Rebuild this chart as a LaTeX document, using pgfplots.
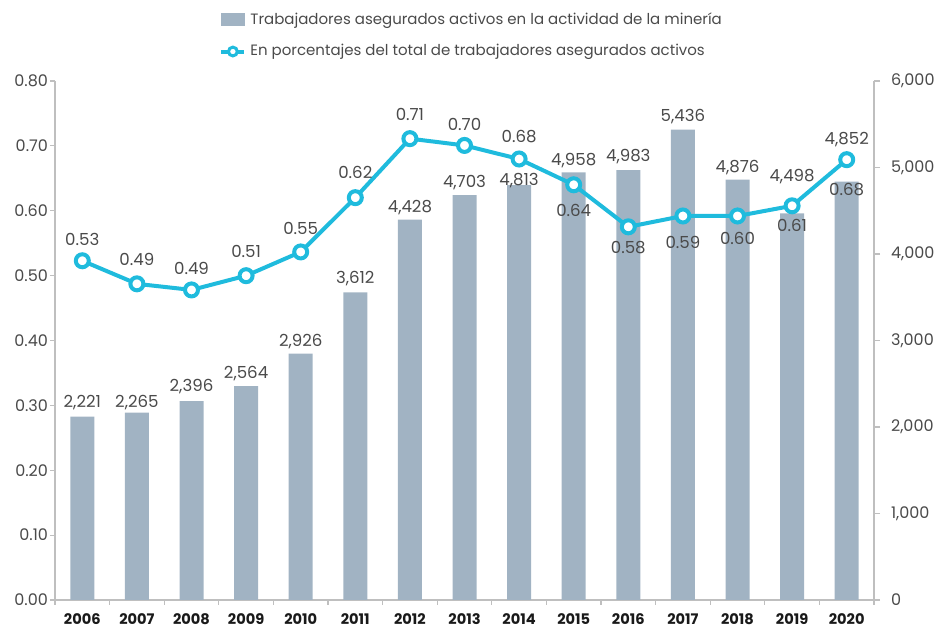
\documentclass[border=0pt]{standalone}
\usepackage{pgfplots}
\pgfplotsset{compat=1.18}
\usepackage{pgfplotstable}
\usepackage{fontspec}
\setmainfont{Poppins}

\definecolor{barcol}{HTML}{A1B3C3}
\definecolor{linecol}{HTML}{1FBBDD}
\definecolor{textcol}{HTML}{4A4A4A}
\definecolor{axiscol}{HTML}{BFBFBF}

% bars: value, label shift (pt)
\pgfplotstableread{
x y off
0 2221 7
1 2265 5
2 2396 7
3 2564 6
4 2926 6
5 3612 6.75
6 4428 5.8
7 4703 6
8 4813 2.5
9 4958 6
10 4983 6.5
11 5436 6.3
12 4876 5.8
13 4498 18.5
14 4852 21
}\bardata

% line: value, shown label, label shift (pt)
\pgfplotstableread{
x y lab off
0 0.530 0.53 10.5
1 0.496 0.49 12
2 0.487 0.49 11
3 0.508 0.51 12
4 0.543 0.55 11.5
5 0.623 0.62 12.5
6 0.710 0.71 12
7 0.700 0.70 10.5
8 0.680 0.68 11
9 0.642 0.64 -13
10 0.580 0.58 -10.5
11 0.596 0.59 -13
12 0.596 0.60 -11
13 0.611 0.61 -10
14 0.679 0.68 -15
}\linedata

\pgfplotsset{
  base/.style={
    scale only axis, width=409.5pt, height=259.5pt,
    xmin=-0.5, xmax=14.5,
    tick align=outside,
    /pgf/number format/assume math mode=true,
    tick label style={font=\fontsize{8}{9}\selectfont, text=textcol},
    axis line style={axiscol, line width=0.6pt},
    every tick/.style={axiscol, line width=0.6pt},
  },
}

\begin{document}
\begin{tikzpicture}
% bars and x axis
\begin{axis}[base, name=main,
    ymin=168, ymax=5980,
    axis x line*=bottom, axis y line=none,
    xtick={-0.5,0.5,...,14.5},
    x tick label as interval,
    xticklabels={2006,2007,2008,2009,2010,2011,2012,2013,2014,2015,2016,2017,2018,2019,2020},
    x tick label style={font=\fontsize{7.3}{9}\selectfont\bfseries, text=black!90, yshift=-1pt},
    major tick length=2.5pt,
    ybar, bar width=12pt,
  ]
  \addplot[fill=barcol, draw=none,
    nodes near coords,
    point meta=y,
    /pgf/number format/1000 sep={,},
    visualization depends on={\thisrow{off}\as\off},
    every node near coord/.append style={anchor=center, yshift=\off pt,
      font=\fontsize{8.3}{10}\selectfont, text=textcol},
  ] table[x=x, y=y] {\bardata};
\end{axis}
% right axis
\begin{axis}[base, at={(main.south west)}, anchor=south west,
    ymin=0, ymax=6000,
    axis y line*=right, axis x line=none,
    ytick={0,1000,...,6000},
    /pgf/number format/1000 sep={,},
    yticklabel style={xshift=2pt},
    major tick length=3pt,
  ]
\end{axis}
% left axis
\begin{axis}[base, at={(main.south west)}, anchor=south west,
    ymin=0, ymax=0.8,
    axis y line*=left, axis x line=none,
    ytick={0,0.1,...,0.8},
    /pgf/number format/fixed,
    /pgf/number format/fixed zerofill,
    /pgf/number format/precision=2,
    yticklabel style={xshift=2.5pt},
    major tick length=2.5pt,
  ]
\end{axis}
% line on top
\begin{axis}[base, at={(main.south west)}, anchor=south west,
    ymin=0.03, ymax=0.795,
    hide axis, clip=false,
    legend style={at={(0,1)}, anchor=north west, xshift=82pt, yshift=36.5pt,
      draw=none, fill=none, font=\fontsize{7.5}{9}\selectfont,
      text=textcol, row sep=4.6pt, inner sep=0pt},
    legend cell align=left,
  ]
  \addlegendimage{legend image code/.code={\fill[barcol] (0pt,-3pt) rectangle (11.5pt,3pt);}}
  \addlegendentry{Trabajadores asegurados activos en la actividad de la minería}
  \addlegendimage{legend image code/.code={
      \draw[linecol, line width=2pt] (0pt,0pt) -- (11.5pt,0pt);
      \draw[linecol, line width=1.5pt, fill=white] (5.75pt,0pt) circle (2.2pt);}}
  \addlegendentry{En porcentajes del total de trabajadores asegurados activos}
  \addplot[linecol, line width=2pt, mark=*, mark size=3.25pt,
    mark options={fill=white, draw=linecol, line width=2pt},
    nodes near coords,
    point meta=explicit symbolic,
    visualization depends on={\thisrow{off}\as\off},
    every node near coord/.append style={anchor=center, yshift=\off pt,
      font=\fontsize{8.3}{10}\selectfont, text=textcol},
    forget plot,
  ] table[x=x, y=y, meta=lab] {\linedata};
\end{axis}
\pgfresetboundingbox
\path ([xshift=-27.5pt,yshift=-15pt]main.south west) rectangle ([xshift=34pt,yshift=40.5pt]main.north east);
\end{tikzpicture}
\end{document}
